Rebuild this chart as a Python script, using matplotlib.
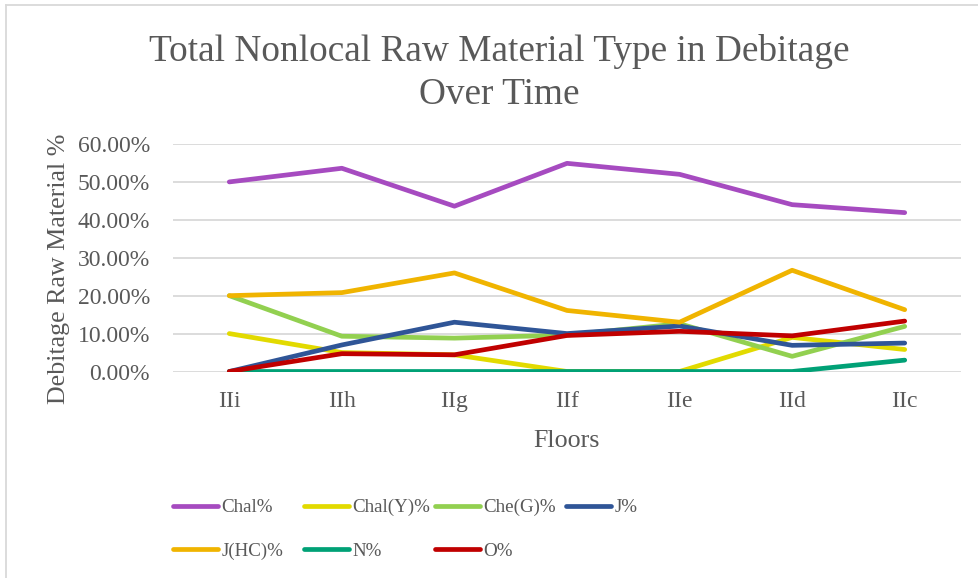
import matplotlib
matplotlib.use("Agg")
import matplotlib.pyplot as plt
from matplotlib.lines import Line2D
from matplotlib.ticker import FuncFormatter

floors = ["IIi", "IIh", "IIg", "IIf", "IIe", "IId", "IIc"]

chal = [50.0, 53.6, 43.6, 54.9, 52.0, 44.0, 41.9]
chal_y = [10.0, 5.0, 4.4, 0.0, 0.0, 9.0, 5.8]
che_g = [20.0, 9.3, 8.8, 9.6, 12.6, 4.0, 11.9]
j_pct = [0.0, 7.0, 13.0, 10.0, 12.0, 6.9, 7.5]
j_hc = [20.0, 20.8, 26.0, 16.1, 13.0, 26.7, 16.3]
n_pct = [0.0, 0.0, 0.0, 0.0, 0.0, 0.0, 3.0]
o_pct = [0.0, 4.7, 4.4, 9.5, 10.6, 9.4, 13.3]

series_names = ["Chal%", "Chal(Y)%", "Che(G)%", "J%", "J(HC)%", "N%", "O%"]
series_values = [chal, chal_y, che_g, j_pct, j_hc, n_pct, o_pct]
series_colors = ["#a64bc0", "#e2da00", "#92d050", "#2f5597",
                 "#f0b400", "#00a176", "#c00000"]

serif = ["Liberation Serif", "DejaVu Serif"]
text_color = "#595959"
grid_color = "#d9d9d9"

W, H = 979, 578
fig = plt.figure(figsize=(W / 100, H / 100), dpi=100)
fig.patch.set_facecolor("white")

# light chart-area frame on the top and left edges
fig.add_artist(Line2D([6 / W, 1.0], [1 - 5 / H, 1 - 5 / H],
                      transform=fig.transFigure, color=grid_color, lw=1.3))
fig.add_artist(Line2D([6 / W, 6 / W], [0.0, 1 - 5 / H],
                      transform=fig.transFigure, color=grid_color, lw=1.3))

ax = fig.add_axes([173 / W, (H - 371.5) / H, 788 / W, 227.5 / H])

x = list(range(len(floors)))
lines = []
for i in range(len(series_names)):
    vals = [v / 100 for v in series_values[i]]
    ln, = ax.plot(x, vals, color=series_colors[i], lw=3.4, label=series_names[i],
                  solid_capstyle="round", solid_joinstyle="round", zorder=3 + i)
    lines.append(ln)

ax.set_xlim(-0.5, len(floors) - 0.5)
ax.set_ylim(0, 0.6)
ax.set_yticks([0, 0.1, 0.2, 0.3, 0.4, 0.5, 0.6])
ax.yaxis.set_major_formatter(FuncFormatter(lambda v, p: f"{v * 100:.2f}%"))
ax.set_xticks(x)
ax.set_xticklabels(floors)

ax.grid(axis="y", color=grid_color, lw=1.3, zorder=0)
ax.set_axisbelow(True)
for s in ax.spines.values():
    s.set_visible(False)
ax.tick_params(axis="both", length=0, labelsize=17, labelcolor=text_color)
ax.tick_params(axis="y", pad=16.5)
ax.tick_params(axis="x", pad=14)
for lab in ax.get_xticklabels() + ax.get_yticklabels():
    lab.set_fontfamily(serif)

ax.set_xlabel("Floors", fontsize=18.7, color=text_color, family=serif)
ax.set_ylabel("Debitage Raw Material %", fontsize=18.7, color=text_color,
              family=serif)
ax.xaxis.set_label_coords(0.5, -(430 - 371.5) / 227.5)
ax.yaxis.set_label_coords((70 - 173) / 788, 0.45)

fig.text(499 / W, 1 - 73 / H, "Total Nonlocal Raw Material Type in Debitage\nOver Time",
         ha="center", va="center", fontsize=26.8, color=text_color, family=serif,
         linespacing=1.34)

# legend laid out row by row in four equal-width columns
ncol = 4
col_w = 131
for c in range(ncol):
    idx = [i for i in range(len(lines)) if i % ncol == c]
    leg = fig.legend([lines[i] for i in idx], [series_names[i] for i in idx],
                     loc="upper left",
                     bbox_to_anchor=((173 + c * col_w) / W, 1 - 499 / H),
                     frameon=False, handlelength=2.37, handletextpad=0.16,
                     borderpad=0, borderaxespad=0, labelspacing=1.36,
                     prop={"family": serif, "size": 13.7})
    for t in leg.get_texts():
        t.set_color(text_color)

fig.savefig("out.png", dpi=100, facecolor="white")
